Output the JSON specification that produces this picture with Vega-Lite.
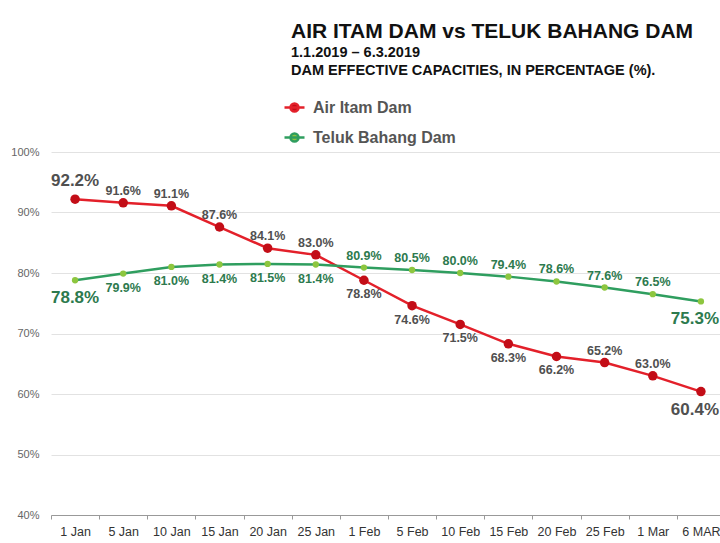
{
  "$schema": "https://vega.github.io/schema/vega-lite/v6.json",
  "width": 674,
  "height": 363,
  "autosize": {"type": "none"},
  "padding": {"left": 51, "top": 152, "right": 0, "bottom": 28},
  "background": "white",
  "config": {"font": "Liberation Sans", "view": {"stroke": null}},
  "title": {
    "text": "AIR ITAM DAM vs TELUK BAHANG DAM",
    "subtitle": ["1.1.2019 – 6.3.2019", "DAM EFFECTIVE CAPACITIES, IN PERCENTAGE (%)."],
    "anchor": "start",
    "frame": "group",
    "dx": 240,
    "offset": 19,
    "fontSize": 21,
    "fontWeight": "bold",
    "color": "#111111",
    "subtitleFontSize": 14.5,
    "subtitleFontWeight": "bold",
    "subtitleColor": "#111111",
    "subtitleLineHeight": 18,
    "subtitlePadding": 4
  },
  "data": {"values": [
    {"date": "1 Jan", "series": "Air Itam Dam", "value": 92.2, "side": "above"},
    {"date": "5 Jan", "series": "Air Itam Dam", "value": 91.6, "side": "above"},
    {"date": "10 Jan", "series": "Air Itam Dam", "value": 91.1, "side": "above"},
    {"date": "15 Jan", "series": "Air Itam Dam", "value": 87.6, "side": "above"},
    {"date": "20 Jan", "series": "Air Itam Dam", "value": 84.1, "side": "above"},
    {"date": "25 Jan", "series": "Air Itam Dam", "value": 83.0, "side": "above"},
    {"date": "1 Feb", "series": "Air Itam Dam", "value": 78.8, "side": "below"},
    {"date": "5 Feb", "series": "Air Itam Dam", "value": 74.6, "side": "below"},
    {"date": "10 Feb", "series": "Air Itam Dam", "value": 71.5, "side": "below"},
    {"date": "15 Feb", "series": "Air Itam Dam", "value": 68.3, "side": "below"},
    {"date": "20 Feb", "series": "Air Itam Dam", "value": 66.2, "side": "below"},
    {"date": "25 Feb", "series": "Air Itam Dam", "value": 65.2, "side": "above"},
    {"date": "1 Mar", "series": "Air Itam Dam", "value": 63.0, "side": "above"},
    {"date": "6 MAR", "series": "Air Itam Dam", "value": 60.4, "side": "below"},
    {"date": "1 Jan", "series": "Teluk Bahang Dam", "value": 78.8, "side": "below"},
    {"date": "5 Jan", "series": "Teluk Bahang Dam", "value": 79.9, "side": "below"},
    {"date": "10 Jan", "series": "Teluk Bahang Dam", "value": 81.0, "side": "below"},
    {"date": "15 Jan", "series": "Teluk Bahang Dam", "value": 81.4, "side": "below"},
    {"date": "20 Jan", "series": "Teluk Bahang Dam", "value": 81.5, "side": "below"},
    {"date": "25 Jan", "series": "Teluk Bahang Dam", "value": 81.4, "side": "below"},
    {"date": "1 Feb", "series": "Teluk Bahang Dam", "value": 80.9, "side": "above"},
    {"date": "5 Feb", "series": "Teluk Bahang Dam", "value": 80.5, "side": "above"},
    {"date": "10 Feb", "series": "Teluk Bahang Dam", "value": 80.0, "side": "above"},
    {"date": "15 Feb", "series": "Teluk Bahang Dam", "value": 79.4, "side": "above"},
    {"date": "20 Feb", "series": "Teluk Bahang Dam", "value": 78.6, "side": "above"},
    {"date": "25 Feb", "series": "Teluk Bahang Dam", "value": 77.6, "side": "above"},
    {"date": "1 Mar", "series": "Teluk Bahang Dam", "value": 76.5, "side": "above"},
    {"date": "6 MAR", "series": "Teluk Bahang Dam", "value": 75.3, "side": "below"}
  ]},
  "transform": [
    {"calculate": "format(datum.value, '.1f') + '%'", "as": "label"}
  ],
  "encoding": {
    "x": {
      "field": "date", "type": "ordinal", "sort": null,
      "scale": {"type": "band", "paddingInner": 0, "paddingOuter": 0},
      "axis": {
        "title": null, "labelAngle": 0, "labelFontSize": 12.5, "labelColor": "#333333",
        "domainColor": "#999999", "tickColor": "#999999", "tickSize": 4, "tickBand": "extent",
        "labelPadding": 6, "grid": false
      }
    },
    "y": {
      "field": "value", "type": "quantitative",
      "scale": {"domain": [40, 100]},
      "axis": {
        "title": null, "values": [40, 50, 60, 70, 80, 90, 100],
        "labelExpr": "datum.value + '%'", "labelFontSize": 11, "labelColor": "#666666",
        "domain": false, "ticks": false, "labelPadding": 12,
        "grid": true, "gridColor": "#e2e2e2", "gridWidth": 1
      }
    }
  },
  "layer": [
    {
      "mark": {"type": "line", "strokeWidth": 2.5},
      "encoding": {
        "color": {
          "field": "series", "type": "nominal",
          "scale": {"domain": ["Air Itam Dam", "Teluk Bahang Dam"], "range": ["#e3202a", "#2f9e5f"]},
          "legend": {
            "orient": "none", "legendX": 232, "legendY": -56, "title": null,
            "labelFontSize": 16, "labelFontWeight": "bold", "labelColor": "#555555",
            "symbolType": "M-1,0H1M-0.4,0A0.4,0.4,0,1,0,0.4,0A0.4,0.4,0,1,0,-0.4,0Z",
            "symbolSize": 400, "symbolStrokeWidth": 2.5, "rowPadding": 9, "labelOffset": 7,
            "encode": {"symbols": {"update": {"fill": {"scale": "fill", "field": "value"}}}}
          }
        }
      }
    },
    {
      "mark": {"type": "point", "filled": true, "opacity": 1},
      "encoding": {
        "fill": {
          "field": "series", "type": "nominal",
          "scale": {"domain": ["Air Itam Dam", "Teluk Bahang Dam"], "range": ["#c30d17", "#8dc63f"]},
          "legend": null
        },
        "size": {"condition": {"test": "datum.series === 'Air Itam Dam'", "value": 90}, "value": 40}
      }
    },
    {
      "transform": [{"filter": "datum.side === 'above' && datum.date !== '1 Jan' && datum.date !== '6 MAR'"}],
      "mark": {"type": "text", "dy": -12, "baseline": "middle", "fontWeight": "bold", "fontSize": 12.5},
      "encoding": {
        "text": {"field": "label"},
        "color": {"condition": {"test": "datum.series === 'Air Itam Dam'", "value": "#505050"}, "value": "#2d7a4e"}
      }
    },
    {
      "transform": [{"filter": "datum.side === 'below' && datum.date !== '1 Jan' && datum.date !== '6 MAR'"}],
      "mark": {"type": "text", "dy": 14, "baseline": "middle", "fontWeight": "bold", "fontSize": 12.5},
      "encoding": {
        "text": {"field": "label"},
        "color": {"condition": {"test": "datum.series === 'Air Itam Dam'", "value": "#505050"}, "value": "#2d7a4e"}
      }
    },
    {
      "transform": [{"filter": "datum.side === 'above' && datum.date === '1 Jan'"}],
      "mark": {"type": "text", "dy": -18, "baseline": "middle", "fontWeight": "bold", "fontSize": 17},
      "encoding": {
        "text": {"field": "label"},
        "color": {"condition": {"test": "datum.series === 'Air Itam Dam'", "value": "#505050"}, "value": "#2d7a4e"}
      }
    },
    {
      "transform": [{"filter": "datum.side === 'below' && datum.date === '1 Jan'"}],
      "mark": {"type": "text", "dy": 18, "baseline": "middle", "fontWeight": "bold", "fontSize": 17},
      "encoding": {
        "text": {"field": "label"},
        "color": {"condition": {"test": "datum.series === 'Air Itam Dam'", "value": "#505050"}, "value": "#2d7a4e"}
      }
    },
    {
      "transform": [{"filter": "datum.date === '6 MAR'"}],
      "mark": {"type": "text", "dy": 18, "dx": -6, "baseline": "middle", "fontWeight": "bold", "fontSize": 17},
      "encoding": {
        "text": {"field": "label"},
        "color": {"condition": {"test": "datum.series === 'Air Itam Dam'", "value": "#505050"}, "value": "#2d7a4e"}
      }
    }
  ]
}
